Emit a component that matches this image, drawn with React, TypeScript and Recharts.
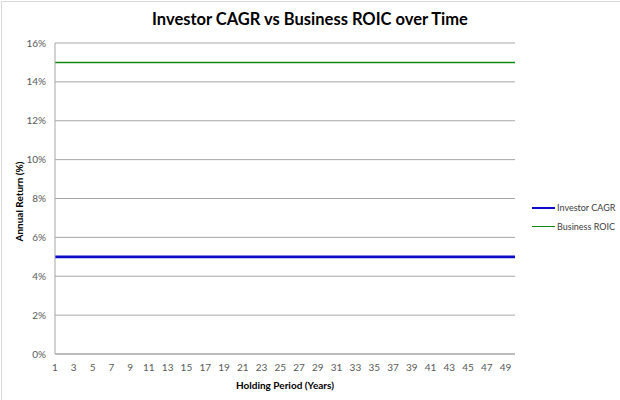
import { CartesianGrid, Legend, Line, LineChart, XAxis, YAxis } from 'recharts';

const YEARS = [
  1, 2, 3, 4, 5, 6, 7, 8, 9, 10, 11, 12, 13, 14, 15, 16, 17, 18, 19, 20, 21, 22, 23, 24, 25,
  26, 27, 28, 29, 30, 31, 32, 33, 34, 35, 36, 37, 38, 39, 40, 41, 42, 43, 44, 45, 46, 47, 48,
  49, 50,
];

const INVESTOR_CAGR = [
  5, 5, 5, 5, 5, 5, 5, 5, 5, 5, 5, 5, 5, 5, 5, 5, 5, 5, 5, 5, 5, 5, 5, 5, 5,
  5, 5, 5, 5, 5, 5, 5, 5, 5, 5, 5, 5, 5, 5, 5, 5, 5, 5, 5, 5, 5, 5, 5, 5, 5,
];

const BUSINESS_ROIC = [
  15, 15, 15, 15, 15, 15, 15, 15, 15, 15, 15, 15, 15, 15, 15, 15, 15, 15, 15, 15, 15, 15, 15,
  15, 15, 15, 15, 15, 15, 15, 15, 15, 15, 15, 15, 15, 15, 15, 15, 15, 15, 15, 15, 15, 15, 15,
  15, 15, 15, 15,
];

const Y_TICKS = [0, 2, 4, 6, 8, 10, 12, 14, 16];

const SERIES = [
  { key: 'investor', name: 'Investor CAGR', color: '#0c0cc8', width: 2.75 },
  { key: 'business', name: 'Business ROIC', color: '#0e8c0e', width: 1.5 },
];

const rows = YEARS.map((year, i) => ({
  year,
  investor: INVESTOR_CAGR[i],
  business: BUSINESS_ROIC[i],
}));

const FONT = 'Lato, "Noto Sans", sans-serif';

const TICK_STYLE = { fontFamily: FONT, fontSize: 10, fill: '#595959' } as const;

function LegendBox() {
  return (
    <div style={{ fontFamily: FONT, fontSize: 9, color: '#404040' }}>
      {SERIES.map((s) => (
        <div key={s.key} style={{ display: 'flex', alignItems: 'center', height: 19 }}>
          <div
            style={{
              width: 23,
              height: 0,
              borderTop: `${s.width > 2 ? 2.5 : 1.5}px solid ${s.color}`,
              marginRight: 2,
            }}
          />
          <span>{s.name}</span>
        </div>
      ))}
    </div>
  );
}

export default function App() {
  return (
    <div
      style={{
        position: 'fixed',
        left: 0,
        top: 0,
        width: 620,
        height: 400,
        background: '#fff',
      }}
    >
      <div
        style={{
          position: 'absolute',
          left: 1,
          top: 1,
          width: 619,
          height: 399,
          borderTop: '1px solid #d9d9d9',
          borderLeft: '1px solid #d9d9d9',
        }}
      />
      <div
        style={{
          position: 'absolute',
          left: 0,
          top: 9,
          width: 620,
          textAlign: 'center',
          fontFamily: FONT,
          fontWeight: 700,
          fontSize: 16.5,
          color: '#000',
        }}
      >
        Investor CAGR vs Business ROIC over Time
      </div>
      <LineChart
        width={620}
        height={400}
        data={rows}
        margin={{ top: 43, right: 105, left: 0, bottom: 0 }}
        style={{ position: 'absolute', left: 0, top: 0 }}
      >
        <CartesianGrid vertical={false} stroke="#a6a6a6" />
        <XAxis
          dataKey="year"
          interval={1}
          height={46}
          tick={TICK_STYLE}
          tickLine={false}
          stroke="#a6a6a6"
          tickMargin={4}
          label={{
            value: 'Holding Period (Years)',
            position: 'insideBottom',
            offset: 11,
            style: { fontFamily: FONT, fontSize: 10, fontWeight: 700, fill: '#000' },
          }}
        />
        <YAxis
          width={55}
          domain={[0, 16]}
          ticks={Y_TICKS}
          tickFormatter={(v: number) => `${v}%`}
          tick={TICK_STYLE}
          tickLine={false}
          tickMargin={3}
          stroke="#a6a6a6"
          label={{
            value: 'Annual Return (%)',
            angle: -90,
            position: 'center',
            dx: -8,
            dy: 3,
            style: { fontFamily: FONT, fontSize: 10, fontWeight: 700, fill: '#000' },
          }}
        />
        <Legend
          layout="horizontal"
          verticalAlign="middle"
          align="center"
          content={<LegendBox />}
          wrapperStyle={{ position: 'absolute', left: 532, top: 198, width: 88 }}
        />
        {SERIES.map((s) => (
          <Line
            key={s.key}
            dataKey={s.key}
            name={s.name}
            type="linear"
            stroke={s.color}
            strokeWidth={s.width}
            dot={false}
            activeDot={false}
            isAnimationActive={false}
          />
        ))}
      </LineChart>
    </div>
  );
}
